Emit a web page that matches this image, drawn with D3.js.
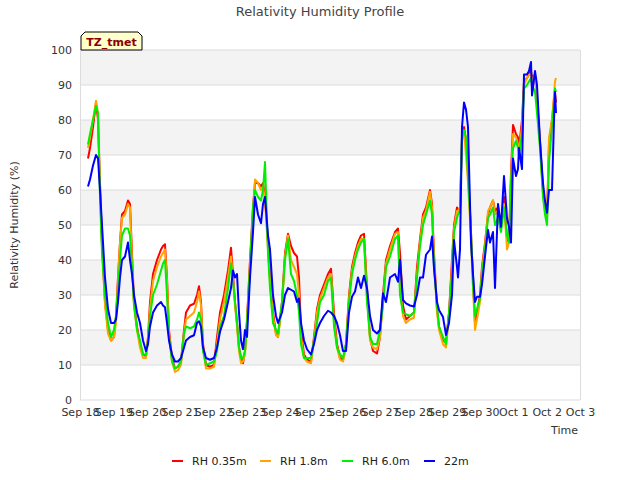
<!DOCTYPE html>
<html><head><meta charset="utf-8">
<script src="https://cdn.jsdelivr.net/npm/d3@7"></script>
<style>body{margin:0;background:#fff;} svg{display:block;font-family:"DejaVu Sans",sans-serif;}</style>
</head><body>
<svg id="chart" width="640" height="480"></svg>
<script>
// Day offsets from Sep 18 00:00 (UTC)
const dayOffsets = [0.24,0.30,0.39,0.48,0.54,0.60,0.66,0.75,0.84,0.93,1.02,1.08,1.14,1.20,1.26,1.35,1.44,1.50,1.56,1.62,1.71,1.80,1.89,1.98,2.04,2.10,2.19,2.31,2.43,2.49,2.55,2.61,2.67,2.76,2.85,2.94,3.03,3.12,3.18,3.30,3.42,3.51,3.57,3.63,3.69,3.78,3.90,4.02,4.11,4.20,4.32,4.44,4.53,4.59,4.65,4.71,4.77,4.83,4.89,4.95,5.01,5.10,5.19,5.25,5.34,5.43,5.49,5.55,5.64,5.70,5.79,5.88,5.94,6.06,6.15,6.24,6.33,6.42,6.51,6.57,6.63,6.72,6.81,6.93,7.02,7.11,7.20,7.32,7.44,7.53,7.62,7.71,7.80,7.89,7.98,8.07,8.16,8.25,8.34,8.43,8.52,8.61,8.70,8.79,8.91,9.00,9.09,9.18,9.30,9.45,9.54,9.60,9.69,9.78,9.90,10.02,10.11,10.20,10.29,10.38,10.50,10.56,10.62,10.71,10.77,10.89,10.98,11.07,11.16,11.22,11.31,11.34,11.40,11.46,11.52,11.58,11.64,11.73,11.79,11.85,11.91,12.00,12.06,12.15,12.24,12.30,12.39,12.45,12.54,12.63,12.72,12.81,12.87,12.93,12.99,13.08,13.14,13.17,13.26,13.32,13.41,13.47,13.53,13.56,13.65,13.71,13.80,13.89,13.95,14.01,14.07,14.16,14.22,14.25,14.28];

const rh035 = [69,72,78,85,80,62,45,28,20,17,18,24,35,45,53,54,57,56,42,28,21,16,13,12.5,18,28,36,40,43,44,44.5,35,20,12,9,9.5,11,20,25,27,27.5,30,32.5,28,16,10,9.5,10,18,25,30,37,43.5,36,28,22,15,12,10.5,14,23,40,55,62,62,61,62,58,45,35,25,19,18,28,42,47.5,44,42,41,35,20,13,11.5,11,18,26,30,33,36,37.5,25,16,12,11.5,16,30,38,42,45,47,47.5,32,18,14,13.3,18,30,40,44,48,49,42,27,23,24,25,38,46,53,55,60,56,42,26,21,17,16.5,25,40,50,55,54,55,75,78,74,66,48,35,22,25,30,38,45,53,55,57,54,55,50,58,46,45,65,78.6,76,75,72,80,91,92,93,94,92,93,86,74,60,55,52,73,80,86,88,85];

const rh18 = [72,75,80,85.5,82,60,44,27,19,17,18,22,34,45,52,53,56,55,40,27,20,15,12,12,17,26,34,38,41,42,43,34,19,11,8,8.5,10,19,23,24,25,28,31,27,15,9,9,9.5,16,23,28,35,41,35,27,21,14,10.5,11,13,22,38,54,63,62,60,61,57,43,34,24,18.5,18,27,41,47,40,38,36,30,18,12,11,10.5,17,25,29,32,35,36,23,15,11.5,11,15,29,37,41,44,46,46,30,17,15,14.5,18,28,39,43,47.5,48,32,24,22,23,23.5,36,45,52,54,59.5,55,40,25,20,16,15,24,38,49,54,54,55,74,77,70,62,46,32,20,23,28,37,44,54,55,57,53,54,50,56,43,45,63,76,75,73,71,78,90,92,93,93,91,93,85,73,59,54,52,75,80,87,91,92];

const rh60 = [73,76,80,84,82,58,42,30,22,18,20,24,32,40,47,49,49,47,38,27,20,17,13,13,17,24,30,33,37,39,40,30,18,11,9,9.5,11,19,21,20.5,21,23,25,23,14,10,10.5,11,14,21,24,32,39,34,28,22,15,12,12,14,22,38,55,60,58,57,60,68,42,32,22,20,19,28,40,46,36,34,30,25,16,12,12,12,17,22,28,30,34,35,21,15,13,12,16,28,36,40,43,45,46,28,18,16,16,20,27,38,41,46,47,30,25,24.5,24,25,35,44,50,53,57,53,38,27,21,18,16,25,36,48,52,53,54,75,77,75,64,48,33,24,26,29,36,43,52,53,55,50,52,48,55,47,45,62,72,74,72,70,76,89,90,91,92,90,88,82,72,58,53,50,68,78,85,89,88];

const rh22 = [61,63,67,70,69,60,50,35,26,22,22,23,28,35,40,41,45,40,36,30,25,22,17,14,16,21,25,27,28,27,26.5,22,17,13,11,11,12,15,17,18,18.5,22,22.5,21,15,12,11.5,12,15,19.5,23,28,32,37,35,36,25,17,14.5,20,18,35,48,58,53,50.5,56,58,47,43,30,24,22,25,30,32,31.5,31,28,29,22,17,14.5,13,16,20,22,24,25.5,25,24,22,18.5,14,14,25,29.5,31,35,32,35.5,32,24,20,19,20,30.5,28,35,36,33.8,40,28.6,27.6,27,26.7,30,35,35,41.5,43,46.7,37.7,28,25.7,23.7,18.6,22,30,45.7,38,35,43,78,85,83,78,45,36,28,29.5,29.5,33,41,48.6,45,48,32,56,49.5,64,52,49.5,45,69,64,66,72,66,93,93,94,96.6,87,94,90,74,62,57,53.5,60,60,80,88,82];

const seriesNames = ["RH 0.35m","RH 1.8m","RH 6.0m","22m"];
const seriesColors = ["#ff0000","#ffa500","#00ee00","#0000ff"];
const seriesValues = [rh035, rh18, rh60, rh22];

const tickLabels = ["Sep 18","Sep 19","Sep 20","Sep 21","Sep 22","Sep 23","Sep 24","Sep 25","Sep 26","Sep 27","Sep 28","Sep 29","Sep 30","Oct 1","Oct 2","Oct 3"];
const yTicks = [0,10,20,30,40,50,60,70,80,90,100];

const svg = d3.select("#chart");
const m = {l:80, r:60, t:50, b:80};
const W = 640, H = 480;
const start = Date.UTC(2023,8,18);
const day = 86400000;
const x = d3.scaleUtc().domain([new Date(start), new Date(start + 15*day)]).range([m.l, W - m.r]);
const y = d3.scaleLinear().domain([0,100]).range([H - m.b, m.t]);

// alternating bands
const g = svg.append("g");
for (let i = 0; i < 10; i++) {
  if (i % 2 === 1) {
    g.append("rect").attr("x", m.l).attr("width", W - m.r - m.l)
      .attr("y", y(yTicks[i+1])).attr("height", y(yTicks[i]) - y(yTicks[i+1]))
      .attr("fill", "#f3f3f3");
  }
}
// grid lines
g.selectAll("line.grid").data(yTicks).join("line")
  .attr("x1", m.l).attr("x2", W - m.r)
  .attr("y1", d => y(d)).attr("y2", d => y(d))
  .attr("stroke", "#dcdcdc").attr("stroke-width", 1);
// left/right borders
g.append("line").attr("x1", m.l+0.5).attr("x2", m.l+0.5).attr("y1", m.t).attr("y2", H-m.b).attr("stroke", "#dcdcdc");
g.append("line").attr("x1", W-m.r+0.5).attr("x2", W-m.r+0.5).attr("y1", m.t).attr("y2", H-m.b).attr("stroke", "#dcdcdc");

// y axis
const yAxis = d3.axisLeft(y).tickValues(yTicks).tickSize(0).tickPadding(8);
const ya = svg.append("g").attr("transform", `translate(${m.l},0)`).call(yAxis);
ya.select(".domain").remove();
ya.selectAll("text").attr("font-size", 11).attr("fill", "#333").attr("font-family", "DejaVu Sans");

// x axis
const xTickDates = tickLabels.map((_, i) => new Date(start + i*day));
const xAxis = d3.axisBottom(x).tickValues(xTickDates).tickSize(0).tickPadding(8)
  .tickFormat((d, i) => tickLabels[i]);
const xa = svg.append("g").attr("transform", `translate(0,${H - m.b})`).call(xAxis);
xa.select(".domain").remove();
xa.selectAll("text").attr("font-size", 11).attr("fill", "#333").attr("font-family", "DejaVu Sans");

// lines
const line = d3.line().x((d, i) => x(new Date(start + dayOffsets[i]*day))).y(d => y(d));
seriesValues.forEach((vals, k) => {
  svg.append("path").datum(vals).attr("d", line)
    .attr("fill", "none").attr("stroke", seriesColors[k]).attr("stroke-width", 2)
    .attr("stroke-linejoin", "round");
});

// title
svg.append("text").attr("x", 320).attr("y", 16).attr("text-anchor", "middle")
  .attr("font-size", 13).attr("fill", "#444").text("Relativity Humidity Profile");
// axis labels
svg.append("text").attr("transform", "translate(18,225) rotate(-90)").attr("text-anchor", "middle")
  .attr("font-size", 11).attr("fill", "#333").text("Relativity Humidity (%)");
svg.append("text").attr("x", 578).attr("y", 434).attr("text-anchor", "end")
  .attr("font-size", 11).attr("fill", "#333").text("Time");

// TZ_tmet tag
const bx0 = 81, bx1 = 142, by0 = 32, by1 = 50, c = 4;
svg.append("path").attr("d", `M${bx0},${by1} L${bx0},${by0+c} L${bx0+c},${by0} L${bx1-c},${by0} L${bx1},${by0+c} L${bx1},${by1} Z`)
  .attr("fill", "#ffffcc").attr("stroke", "#000").attr("stroke-width", 1);
svg.append("text").attr("x", (bx0+bx1)/2).attr("y", 46).attr("text-anchor", "middle")
  .attr("font-size", 11).attr("font-weight", "bold").attr("fill", "#8b0000").text("TZ_tmet");

// legend
const legX = [172, 260, 342, 424];
seriesNames.forEach((n, k) => {
  svg.append("line").attr("x1", legX[k]).attr("x2", legX[k] + 11).attr("y1", 461).attr("y2", 461)
    .attr("stroke", seriesColors[k]).attr("stroke-width", 2);
  svg.append("text").attr("x", legX[k] + 20).attr("y", 465).attr("font-size", 11).attr("fill", "#222").text(n);
});
</script>
</body></html>
